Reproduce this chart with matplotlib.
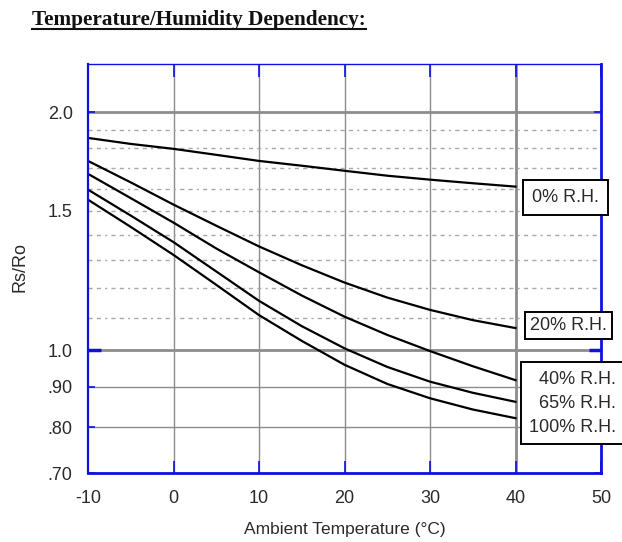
import matplotlib
matplotlib.use('Agg')
from matplotlib import pyplot as plt
from matplotlib.lines import Line2D

# Data
temps = [-10, -5, 0, 5, 10, 15, 20, 25, 30, 35, 40]
rh0 = [1.855, 1.823, 1.797, 1.766, 1.735, 1.711, 1.686, 1.662, 1.643, 1.626, 1.610]
rh20 = [1.735, 1.630, 1.528, 1.437, 1.353, 1.281, 1.218, 1.166, 1.125, 1.092, 1.067]
rh40 = [1.671, 1.557, 1.450, 1.345, 1.255, 1.173, 1.103, 1.046, 0.998, 0.955, 0.917]
rh65 = [1.596, 1.480, 1.370, 1.258, 1.155, 1.073, 1.006, 0.953, 0.913, 0.884, 0.861]
rh100 = [1.550, 1.432, 1.320, 1.210, 1.108, 1.028, 0.959, 0.907, 0.870, 0.842, 0.821]

xticks = [-10, 0, 10, 20, 30, 40, 50]
yticks = [0.7, 0.8, 0.9, 1.0, 1.5, 2.0]
ytick_labels = ['.70', '.80', '.90', '1.0', '1.5', '2.0']
minor_grid = [1.1, 1.2, 1.3, 1.4, 1.5, 1.6, 1.7, 1.8, 1.9]

plt.rcParams['font.family'] = ['Liberation Sans', 'DejaVu Sans']
text_col = '#2a2a2a'
grid_col = '#8c8c8c'
blue = '#1010e0'

fig = plt.figure(figsize=(6.22, 5.42), dpi=100)
W, H = 622, 542
ax = fig.add_axes([88 / W, 1 - 473 / H, 513 / W, 409 / H])

ax.set_yscale('log')
ax.set_xlim(-10, 50)
ax.set_ylim(0.7, 2.3)

# grid
for x in [0, 10, 20, 30]:
    ax.axvline(x, color=grid_col, lw=1.0, zorder=1)
ax.axvline(40, color=grid_col, lw=2.0, zorder=1)
for y in [0.8, 0.9]:
    ax.axhline(y, color=grid_col, lw=1.0, zorder=1)
for y in [1.0, 2.0]:
    ax.axhline(y, color=grid_col, lw=2.0, zorder=1)
for y in minor_grid:
    ax.axhline(y, color='#a8a8a8', lw=1.0, ls=(0, (3, 3, 3, 3, 1.5, 3)), zorder=1)

# curves
for series in [rh0, rh20, rh40, rh65, rh100]:
    ax.plot(temps, series, color='black', lw=1.6, zorder=3)

# axes styling
ax.set_xticks(xticks)
ax.set_xticklabels([str(t) for t in xticks])
ax.set_yticks(yticks)
ax.set_yticklabels(ytick_labels)
ax.yaxis.set_minor_locator(matplotlib.ticker.NullLocator())
ax.tick_params(axis='both', which='major', direction='in', color=blue,
               labelcolor=text_col, labelsize=13, top=True, right=True)
ax.tick_params(axis='x', length=9, width=1.2, pad=12)
ax.tick_params(axis='y', length=5, width=1.2, pad=11)

for val, tick in zip(yticks, ax.yaxis.get_major_ticks()):
    if val == 1.5:
        tick.tick1line.set_markersize(0)
        tick.tick2line.set_markersize(0)
    elif val == 1.0:
        tick.tick1line.set_markersize(9)
        tick.tick2line.set_markersize(9)
        tick.tick1line.set_markeredgewidth(2.5)
        tick.tick2line.set_markeredgewidth(2.5)

for side, lw in [('left', 1.6), ('bottom', 2.0), ('right', 2.0), ('top', 1.0)]:
    ax.spines[side].set_color(blue)
    ax.spines[side].set_linewidth(lw)
    ax.spines[side].set_zorder(5)

ax.set_xlabel('Ambient Temperature (°C)', fontsize=12.5, color=text_col, labelpad=11)
ax.set_ylabel('Rs/Ro', fontsize=13, color=text_col)
ax.yaxis.set_label_coords(-(88 - 28) / 513, (473 - 267) / 409)

# curve labels
ax.text(41.9, 1.56, '0% R.H.', fontsize=13, color=text_col, va='center', ha='left',
        zorder=6, clip_on=False,
        bbox=dict(boxstyle='square,pad=0.5', fc='white', ec='black', lw=1.4))
ax.text(41.7, 1.075, '20% R.H.', fontsize=13, color=text_col, va='center', ha='left',
        zorder=6, clip_on=False,
        bbox=dict(boxstyle='square,pad=0.3', fc='white', ec='black', lw=1.4))
ax.text(51.75, 0.857, '40% R.H.\n65% R.H.\n100% R.H.', fontsize=13, color=text_col,
        va='center', ha='right', multialignment='right', linespacing=1.57,
        zorder=6, clip_on=False,
        bbox=dict(boxstyle='square,pad=0.45', fc='white', ec='black', lw=1.4))

# title with underline
title = fig.text(32 / W, 1 - 25 / H, 'Temperature/Humidity Dependency:',
                 family=['Liberation Serif', 'DejaVu Serif'], weight='bold',
                 fontsize=15.3, color='#111111', va='baseline', ha='left')
fig.canvas.draw()
bb = title.get_window_extent()
uy = 1 - 29 / H
fig.add_artist(Line2D([bb.x0 / W, bb.x1 / W], [uy, uy], color='#111111', lw=1.5))

fig.savefig('out.png', dpi=100)
